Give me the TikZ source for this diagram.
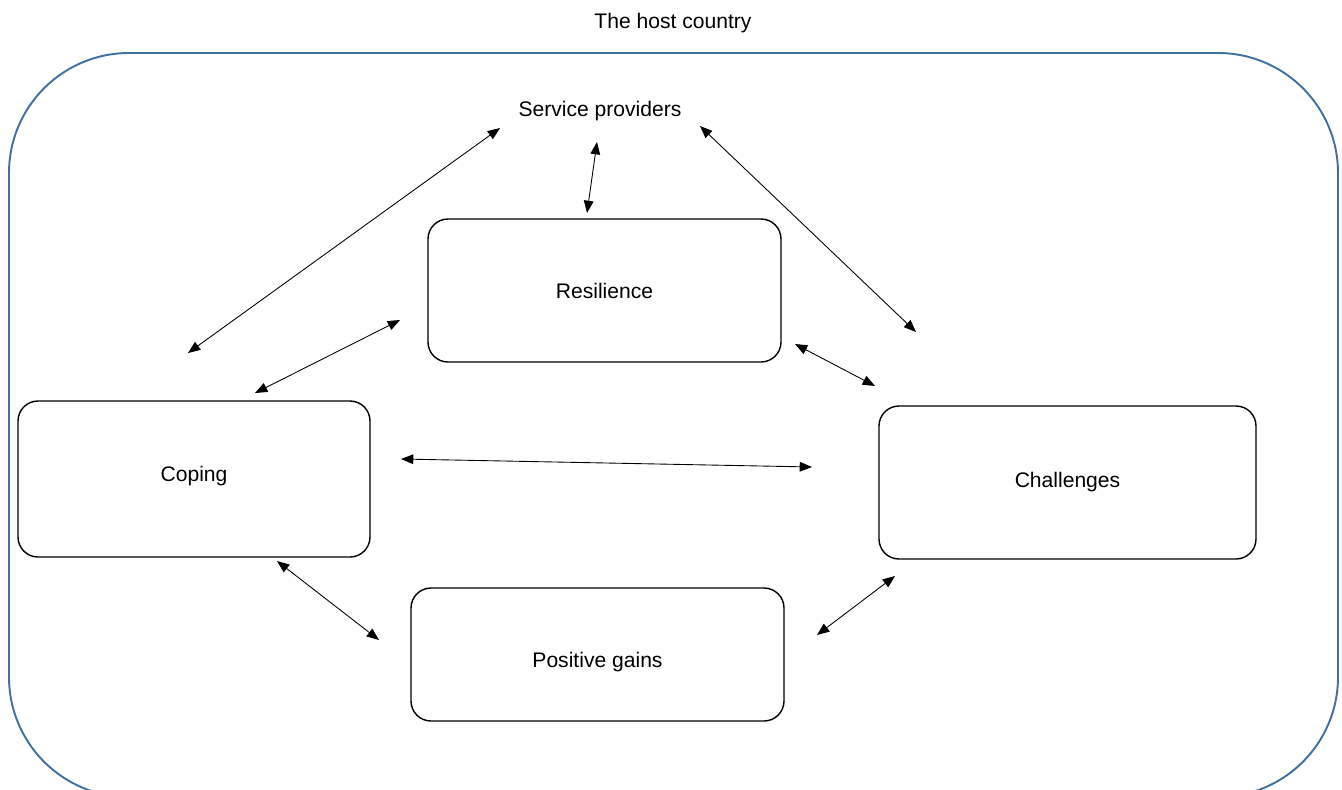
\documentclass[tikz,border=0pt]{standalone}
\usepackage{fontspec}
\setmainfont{Liberation Sans}
\usetikzlibrary{arrows.meta}
\definecolor{framecol}{RGB}{66,112,160}

\begin{document}
\begin{tikzpicture}[font=\fontsize{12}{14}\selectfont,
  box/.style={draw, thick, rounded corners=0.4cm, align=center},
  link/.style={{Triangle[length=7pt,width=5.5pt]}-{Triangle[length=7pt,width=5.5pt]}, line width=0.5pt}]
  \useasboundingbox (0,0) rectangle (26.84,-15.78);
  \clip (0,0) rectangle (26.84,-15.78);
  \draw[framecol, line width=1.1pt, rounded corners=2.4cm] (0.18,-1.06) rectangle (26.76,-15.94);

  \node (title) at (13.46,-0.47) {The host country};
  \node (service) at (12,-2.22) {Service providers};
  \node[box, minimum width=7.06cm, minimum height=2.86cm] (resilience) at (12.09,-5.81) {Resilience};
  \node[box, minimum width=7.04cm, minimum height=3.12cm, text depth=5.5pt] (coping) at (3.88,-9.58) {Coping};
  \node[box, minimum width=7.54cm, minimum height=3.06cm, text depth=3pt] (challenges) at (21.35,-9.65) {Challenges};
  \node[box, minimum width=7.46cm, minimum height=2.66cm, text height=17.5pt] (gains) at (11.95,-13.09) {Positive gains};

  % free ends of the links
  \coordinate (s1) at (10,-2.56);     \coordinate (c1) at (3.76,-7.06);
  \coordinate (s2) at (11.94,-2.84);  \coordinate (r2) at (11.74,-4.26);
  \coordinate (s3) at (14,-2.52);     \coordinate (h3) at (18.32,-6.64);
  \coordinate (r4) at (8,-6.4);       \coordinate (c4) at (5.1,-7.86);
  \coordinate (r5) at (15.9,-6.88);   \coordinate (h5) at (17.5,-7.72);
  \coordinate (c6) at (8.02,-9.18);   \coordinate (h6) at (16.24,-9.34);
  \coordinate (c7) at (5.54,-11.22);  \coordinate (g7) at (7.58,-12.8);
  \coordinate (h8) at (17.9,-11.52);  \coordinate (g8) at (16.34,-12.7);

  \draw[link] (s1) -- (c1);
  \draw[link] (s2) -- (r2);
  \draw[link] (s3) -- (h3);
  \draw[link] (r4) -- (c4);
  \draw[link] (r5) -- (h5);
  \draw[link] (c6) -- (h6);
  \draw[link] (c7) -- (g7);
  \draw[link] (h8) -- (g8);
\end{tikzpicture}
\end{document}
